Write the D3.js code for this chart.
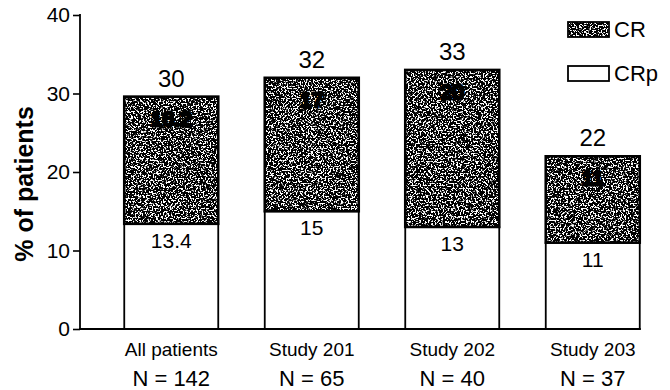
<!DOCTYPE html>
<html>
<head>
<meta charset="utf-8">
<script src="https://cdn.jsdelivr.net/npm/d3@7"></script>
<style>
  html, body { margin: 0; padding: 0; background: #fff; }
  svg { display: block; font-family: "Liberation Sans", Arial, sans-serif; }
</style>
</head>
<body>
<svg id="chart" width="670" height="390"></svg>
<script>
// Response rates by study
const categories = ["All patients", "Study 201", "Study 202", "Study 203"];
const sampleSizes = ["N = 142", "N = 65", "N = 40", "N = 37"];
const crpValues = [13.4, 15, 13, 11];   // CRp (lower segment)
const crValues = [16.2, 17, 20, 11];    // CR (upper segment)
const yTicks = [0, 10, 20, 30, 40];
const seriesNames = ["CR", "CRp"];

const svg = d3.select("#chart");

// Speckled black fill for the CR segments
const defs = svg.append("defs");
const f = defs.append("filter")
  .attr("id", "speckle")
  .attr("x", 0).attr("y", 0).attr("width", 1).attr("height", 1)
  .attr("color-interpolation-filters", "sRGB");
f.append("feTurbulence")
  .attr("type", "fractalNoise")
  .attr("baseFrequency", 0.6)
  .attr("numOctaves", 2)
  .attr("seed", 7)
  .attr("result", "noise");
f.append("feColorMatrix")
  .attr("in", "noise")
  .attr("type", "matrix")
  .attr("values", "0 0 0 0 1  0 0 0 0 1  0 0 0 0 1  14 0 0 0 -7.3")
  .attr("result", "dots");
f.append("feComposite")
  .attr("in", "dots").attr("in2", "SourceGraphic")
  .attr("operator", "in").attr("result", "clipped");
const merge = f.append("feMerge");
merge.append("feMergeNode").attr("in", "SourceGraphic");
merge.append("feMergeNode").attr("in", "clipped");

const x = d3.scaleBand()
  .domain(categories)
  .range([101, 663])
  .paddingInner(0.331)
  .paddingOuter(0.1655);

const y = d3.scaleLinear().domain([0, 40]).range([329, 15]);

// Y axis
const yAxis = svg.append("g")
  .attr("transform", "translate(80,0)")
  .call(d3.axisLeft(y).tickValues(yTicks).tickSize(7).tickPadding(3).tickFormat(d3.format("d")));
yAxis.select(".domain").remove();
yAxis.selectAll(".tick line").attr("stroke", "#000").attr("stroke-width", 1.6);
yAxis.selectAll(".tick text")
  .attr("fill", "#000")
  .style("font-size", "21px")
  .style("font-family", "'Liberation Sans', Arial, sans-serif");
svg.append("line")
  .attr("x1", 80).attr("x2", 80)
  .attr("y1", y(40) - 1).attr("y2", y(0))
  .attr("stroke", "#000").attr("stroke-width", 1.8);

svg.append("text")
  .attr("transform", `translate(33,${(y(40) + y(0)) / 2 + 12}) rotate(-90)`)
  .attr("text-anchor", "middle")
  .style("font-size", "25px")
  .style("font-weight", "bold")
  .text("% of patients");

// Bars
const rows = categories.map((c, i) => ({
  cat: c, crp: crpValues[i], cr: crValues[i], total: crpValues[i] + crValues[i]
}));

const bars = svg.append("g").selectAll("g").data(rows).join("g");

bars.append("rect")
  .attr("x", d => x(d.cat))
  .attr("width", x.bandwidth())
  .attr("y", d => y(d.crp))
  .attr("height", d => y(0) - y(d.crp))
  .attr("fill", "#fff")
  .attr("stroke", "#000")
  .attr("stroke-width", 1.8);

bars.append("rect")
  .attr("x", d => x(d.cat))
  .attr("width", x.bandwidth())
  .attr("y", d => y(d.total))
  .attr("height", d => y(d.crp) - y(d.total))
  .attr("fill", "#000")
  .attr("filter", "url(#speckle)");

bars.append("rect")
  .attr("x", d => x(d.cat))
  .attr("width", x.bandwidth())
  .attr("y", d => y(d.total))
  .attr("height", d => y(d.crp) - y(d.total))
  .attr("fill", "none")
  .attr("stroke", "#000")
  .attr("stroke-width", 2.6);

// CR value inside the dark segment
bars.append("text")
  .attr("x", d => x(d.cat) + x.bandwidth() / 2)
  .attr("y", d => y(d.total) + 29)
  .attr("text-anchor", "middle")
  .style("font-size", "21px")
  .attr("fill", "#000")
  .attr("stroke", "#000")
  .attr("stroke-width", 3)
  .attr("stroke-linejoin", "round")
  .text(d => d.cr);

// CRp value inside the white segment
bars.append("text")
  .attr("x", d => x(d.cat) + x.bandwidth() / 2)
  .attr("y", d => y(d.crp) + 24)
  .attr("text-anchor", "middle")
  .style("font-size", "21px")
  .attr("fill", "#000")
  .text(d => d.crp);

// Total on top
bars.append("text")
  .attr("x", d => x(d.cat) + x.bandwidth() / 2)
  .attr("y", d => y(d.total) - 10)
  .attr("text-anchor", "middle")
  .style("font-size", "24px")
  .attr("fill", "#000")
  .text(d => d3.format(".0f")(d.total));

// X axis baseline
svg.append("line")
  .attr("x1", 79).attr("x2", x(categories[3]) + x.bandwidth() + 1)
  .attr("y1", y(0)).attr("y2", y(0))
  .attr("stroke", "#000").attr("stroke-width", 2);

// Category labels
const xl = svg.append("g").selectAll("g").data(categories).join("g")
  .attr("transform", c => `translate(${x(c) + x.bandwidth() / 2},0)`);
xl.append("text")
  .attr("y", 356)
  .attr("text-anchor", "middle")
  .style("font-size", "19px")
  .text(c => c);
xl.append("text")
  .attr("y", 386)
  .attr("text-anchor", "middle")
  .style("font-size", "22px")
  .text((c, i) => sampleSizes[i]);

// Legend
const legend = svg.append("g").selectAll("g").data(seriesNames).join("g")
  .attr("transform", (d, i) => `translate(568,${22 + i * 44})`);
legend.append("rect")
  .attr("width", 41).attr("height", 15)
  .attr("fill", d => d === "CR" ? "#000" : "#fff")
  .attr("filter", d => d === "CR" ? "url(#speckle)" : null);
legend.append("rect")
  .attr("width", 41).attr("height", 15)
  .attr("fill", "none")
  .attr("stroke", "#000").attr("stroke-width", 1.8);
legend.append("text")
  .attr("x", 46).attr("y", 15)
  .style("font-size", "22px")
  .text(d => d);
</script>
</body>
</html>
